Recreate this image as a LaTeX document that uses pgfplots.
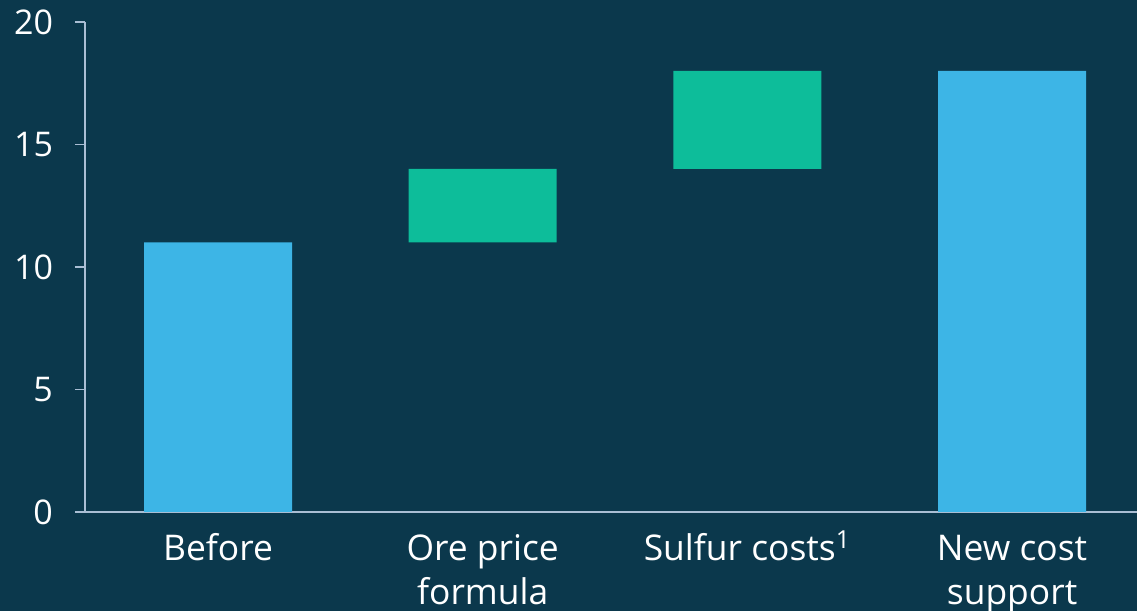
\documentclass[border=0pt]{standalone}
\usepackage{pgfplots}
\pgfplotsset{compat=1.18}
\usepackage{fontspec}
\setmainfont{Open Sans}
\definecolor{bg}{RGB}{11,56,76}
\definecolor{axc}{RGB}{170,190,212}
\definecolor{barblue}{RGB}{61,181,230}
\definecolor{bargreen}{RGB}{13,189,154}
\newcommand{\st}{\vphantom{Bf}}
\begin{document}
\begin{tikzpicture}[x=1pt,y=1pt]
\useasboundingbox (0,0) rectangle (568.5,305.5);
\fill[bg] (0,0) rectangle (568.5,305.5);
\begin{axis}[
  scale only axis, width=526pt, height=245pt,
  at={(42.5pt,49.5pt)}, anchor=south west,
  ymin=0, ymax=20, xmin=-0.5025, xmax=3.472,
  ybar stacked, bar width=74pt,
  axis x line*=bottom, axis y line*=left,
  axis line style={axc, line width=0.7pt},
  ytick={0,5,10,15,20},
  xtick={0,1,2,3},
  xticklabels={\st Before, \st Ore price\\formula, \st Sulfur costs\smash{\textsuperscript{1}}, \st New cost\\support},
  ticklabel style={white, font=\fontsize{17}{22}\selectfont},
  xticklabel style={align=center, anchor=north, yshift=-2.2pt, font=\fontsize{17.7}{22}\selectfont},
  major x tick style={draw=none},
  major y tick style={axc, line width=0.7pt},
  tick align=outside, major tick length=5pt,
  yticklabel style={anchor=east, xshift=-7.5pt},
  /pgf/number format/assume math mode=true,
]
\addplot[draw=none, fill=none, forget plot] coordinates {(0,0) (1,11) (2,14) (3,0)};
\addplot[draw=none, fill=barblue] coordinates {(0,11) (1,0) (2,0) (3,18)};
\addplot[draw=none, fill=bargreen] coordinates {(0,0) (1,3) (2,4) (3,0)};
\end{axis}
\end{tikzpicture}
\end{document}
